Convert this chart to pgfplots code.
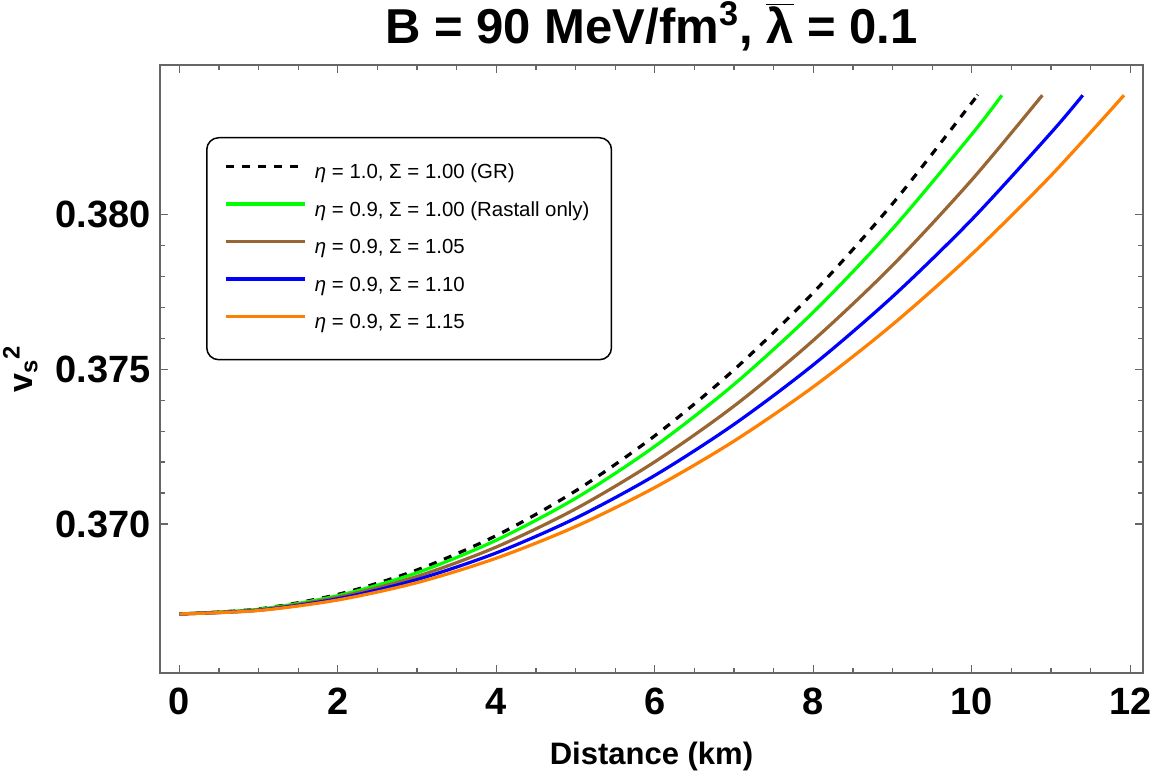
\documentclass[border=0pt]{standalone}
\usepackage{pgfplots}
\pgfplotsset{compat=1.18}
\usepackage{fontspec}
\setmainfont{Liberation Sans}
\definecolor{mgreen}{rgb}{0,1,0}
\definecolor{mbrown}{rgb}{0.6,0.4,0.2}
\definecolor{morange}{rgb}{1,0.5,0}
\definecolor{mblue}{rgb}{0,0,1}
\begin{document}
\begin{tikzpicture}
\path[use as bounding box] (-80pt,-50.5pt) rectangle (496pt,336.5pt);
\begin{axis}[
  at={(0,0)}, anchor=south west,
  scale only axis, width=491.5pt, height=304pt,
  xmin=-0.244, xmax=12.16, ymin=0.365194, ymax=0.384816,
  xtick={0,2,4,6,8,10,12}, xticklabels={0,2,4,6,8,10,12},
  ytick={0.370,0.375,0.380}, yticklabels={0.370,0.375,0.380},
  minor x tick num=3, minor y tick num=4,
  major tick length=4pt, minor tick length=2.5pt,
  axis line style={draw=black!60, line width=0.75pt},
  every tick/.style={draw=black!60, line width=0.6pt},
  ticklabel style={font=\fontsize{19}{19}\selectfont\bfseries},
  xticklabel style={anchor=base, yshift=-21pt},
  yticklabel style={anchor=east, inner sep=0pt, xshift=-4.5pt},
  title={B = 90 MeV/fm\textsuperscript{3}, $\overline{\mbox{λ}}$ = 0.1},
  title style={font=\fontsize{24.5}{26}\selectfont\bfseries, at={(axis description cs:0.5,1.0148)}, anchor=base},
  xlabel={Distance (km)},
  xlabel style={font=\fontsize{15.5}{17}\selectfont\bfseries, at={(axis description cs:0.5,-0.1513)}, anchor=base},
  ylabel={v\textsubscript{s}\textsuperscript{2}},
  ylabel style={font=\fontsize{17}{18}\selectfont\bfseries, at={(axis description cs:-0.1420,0.5)}, anchor=center},
  legend cell align=left,
  legend image code/.code={\draw[#1] (0pt,3.6pt) -- (39.5pt,3.6pt);},
  legend style={at={(0.0468,0.8816)}, anchor=north west, draw=black, line width=0.75pt,
    rounded corners=6pt, inner xsep=9pt, inner ysep=11pt, row sep=4.75pt, column sep=2pt,
    nodes={inner sep=2pt, text height=7.5pt, text depth=2.5pt, font=\fontsize{10.2}{12}\selectfont}},
]
\addplot[black, line width=1.6pt, dash pattern=on 4pt off 4pt, smooth] coordinates {
(0,0.36710) (1,0.36726) (2,0.36773) (3,0.36852) (4,0.36963) (5,0.37107) (6,0.37285)
(7,0.37498) (8,0.37747) (9,0.38034) (10,0.38360) (10.07,0.38384)};
\addlegendentry{\textit{η} = 1.0, Σ = 1.00 (GR)}
\addplot[mgreen, line width=1.6pt, smooth] coordinates {
(0,0.36710) (1,0.36725) (2,0.36769) (3,0.36843) (4,0.36948) (5,0.37083) (6,0.37251)
(7,0.37451) (8,0.37684) (9,0.37953) (10,0.38258) (10.38,0.38384)};
\addlegendentry{\textit{η} = 0.9, Σ = 1.00 (Rastall only)}
\addplot[mbrown, line width=1.6pt, smooth] coordinates {
(0,0.36710) (1,0.36723) (2,0.36764) (3,0.36831) (4,0.36926) (5,0.37049) (6,0.37201)
(7,0.37381) (8,0.37593) (9,0.37835) (10,0.38111) (10.89,0.38384)};
\addlegendentry{\textit{η} = 0.9, Σ = 1.05}
\addplot[mblue, line width=1.6pt, smooth] coordinates {
(0,0.36710) (1,0.36722) (2,0.36759) (3,0.36821) (4,0.36907) (5,0.37019) (6,0.37157)
(7,0.37322) (8,0.37514) (9,0.37734) (10,0.37983) (11,0.38263) (11.40,0.38384)};
\addlegendentry{\textit{η} = 0.9, Σ = 1.10}
\addplot[morange, line width=1.6pt, smooth] coordinates {
(0,0.36710) (1,0.36721) (2,0.36755) (3,0.36811) (4,0.36890) (5,0.36992) (6,0.37118)
(7,0.37268) (8,0.37443) (9,0.37644) (10,0.37871) (11,0.38125) (11.92,0.38384)};
\addlegendentry{\textit{η} = 0.9, Σ = 1.15}
\end{axis}
\end{tikzpicture}
\end{document}
